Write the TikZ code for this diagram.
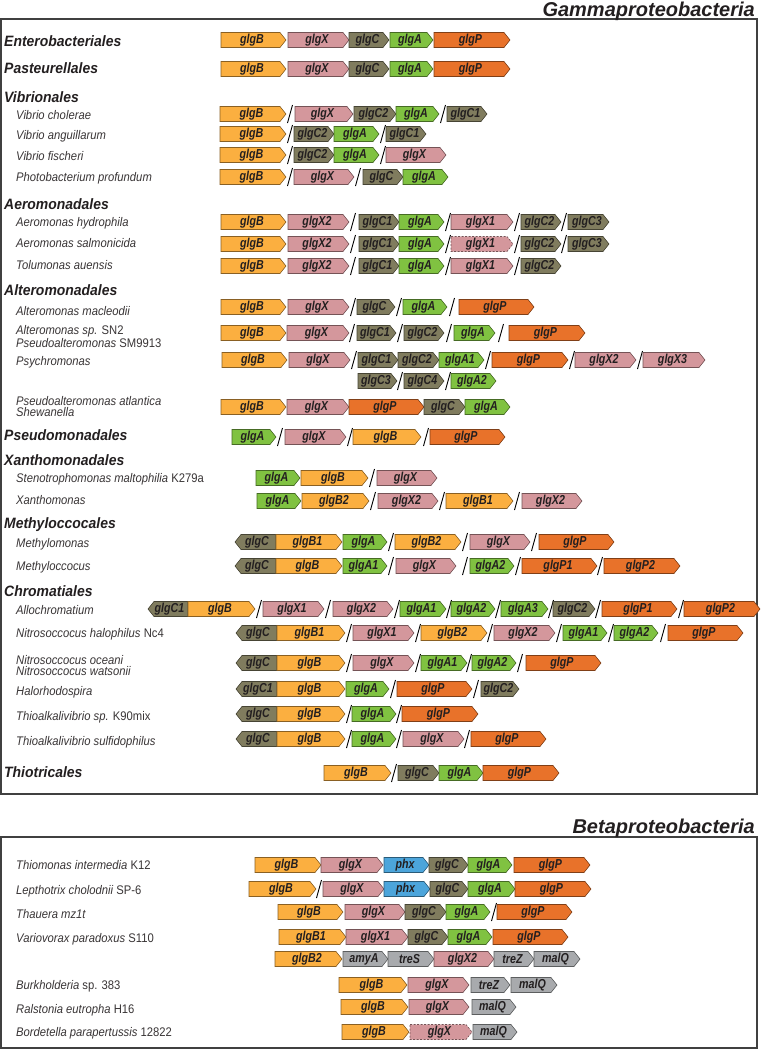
\documentclass[tikz,border=0pt]{standalone}
\usepackage{fontspec}
\setmainfont{Liberation Sans}
\newfontfamily\genefont[FakeStretch=0.82]{Liberation Sans}
\newfontfamily\labfont[FakeStretch=0.9]{Liberation Sans}
\newfontfamily\ordfont[FakeStretch=0.93]{Liberation Sans}
\definecolor{cB}{HTML}{FBAF40}
\definecolor{cX}{HTML}{D4979C}
\definecolor{cC}{HTML}{807C5E}
\definecolor{cA}{HTML}{80C241}
\definecolor{cP}{HTML}{E8722A}
\definecolor{cH}{HTML}{4CA5DB}
\definecolor{cG}{HTML}{A8AAAD}
\definecolor{txt}{HTML}{231F20}
\newcounter{gk}
\newcommand\gshape[6]{\stepcounter{gk}%
\filldraw[geneline,fill=#5,draw=#5!55!black,#1] (#2,#4-7.5) -- (#3-6,#4-7.5) -- (#3,#4) -- (#3-6,#4+7.5) -- (#2,#4+7.5) -- cycle;
\node[genetext] (g\thegk) at ({(#2+#3-3)/2},#4) {#6};}
\newcommand\gF{\gshape{}}
\newcommand\gD{\gshape{dash pattern=on 2pt off 1.5pt}}
\newcommand\gR[5]{\stepcounter{gk}%
\filldraw[geneline,fill=#4,draw=#4!55!black] (#2,#3-7.5) -- (#1+6,#3-7.5) -- (#1,#3) -- (#1+6,#3+7.5) -- (#2,#3+7.5) -- cycle;
\node[genetext] (g\thegk) at ({(#1+#2+3)/2},#3) {#5};}
\newcommand\brk[2]{\draw[brkline] (#1-2.5,#2+9) -- (#1+2.5,#2-9);}
\begin{document}
\begin{tikzpicture}[x=1pt,y=-1pt,
  geneline/.style={line width=0.6pt,line join=miter},
  genetext/.style={inner sep=0pt,text=txt,font=\genefont\fontsize{13}{14}\selectfont\bfseries\itshape},
  brkline/.style={line width=0.9pt,draw=black},
  frame/.style={line width=1.3pt,draw=black!75},
  hdr/.style={inner sep=0pt,text=txt,font=\fontsize{20}{22}\selectfont\bfseries\itshape},
  ordlab/.style={anchor=mid west,inner sep=0pt,text=txt,font=\ordfont\fontsize{15}{16}\selectfont\bfseries\itshape},
  splab/.style={anchor=mid west,inner sep=0pt,text=txt!90,font=\labfont\fontsize{12.5}{13}\selectfont\itshape},
  splab2/.style={anchor=west,inner sep=0pt,text=txt!90,align=left,font=\labfont\fontsize{12.5}{11}\selectfont\itshape}]
\useasboundingbox (0,0) rectangle (761,1050);
\fill[white] (0,0) rectangle (761,1050);
% frames and headers
\draw[frame] (1,19) rectangle (757,794);
\draw[frame] (1,837) rectangle (757,1048);
\node[hdr,anchor=base east] (hg) at (755,16) {Gammaproteobacteria};
\node[hdr,anchor=base east] (hb) at (755,833) {Betaproteobacteria};
% labels
\node[ordlab] (o1) at (4,44) {Enterobacteriales};
\node[ordlab] (o2) at (4,71) {Pasteurellales};
\node[ordlab] (o3) at (4,100) {Vibrionales};
\node[splab] (s1) at (16,117) {Vibrio cholerae};
\node[splab] (s2) at (16,137) {Vibrio anguillarum};
\node[splab] (s3) at (16,158) {Vibrio fischeri};
\node[splab] (s4) at (16,179) {Photobacterium profundum};
\node[ordlab] (o4) at (4,207) {Aeromonadales};
\node[splab] (s5) at (16,224) {Aeromonas hydrophila};
\node[splab] (s6) at (16,245) {Aeromonas salmonicida};
\node[splab] (s7) at (16,267) {Tolumonas auensis};
\node[ordlab] (o5) at (4,293) {Alteromonadales};
\node[splab] (s8) at (16,313) {Alteromonas macleodii};
\node[splab2] (s9) at (16,336.5) {Alteromonas sp. {\upshape SN2}\\Pseudoalteromonas {\upshape SM9913}};
\node[splab] (s10) at (16,363) {Psychromonas};
\node[splab2] (s11) at (16,406.5) {Pseudoalteromonas atlantica\\Shewanella};
\node[ordlab] (o6) at (4,438) {Pseudomonadales};
\node[ordlab] (o7) at (4,463) {Xanthomonadales};
\node[splab] (s12) at (16,480) {Stenotrophomonas maltophilia {\upshape K279a}};
\node[splab] (s13) at (16,502) {Xanthomonas};
\node[ordlab] (o8) at (4,526) {Methyloccocales};
\node[splab] (s14) at (16,545) {Methylomonas};
\node[splab] (s15) at (16,568) {Methyloccocus};
\node[ordlab] (o9) at (4,594) {Chromatiales};
\node[splab] (s16) at (16,612) {Allochromatium};
\node[splab] (s17) at (16,635) {Nitrosoccocus halophilus {\upshape Nc4}};
\node[splab2] (s18) at (16,665.5) {Nitrosoccocus oceani\\Nitrosoccocus watsonii};
\node[splab] (s19) at (16,693) {Halorhodospira};
\node[splab] (s20) at (16,718) {Thioalkalivibrio sp. {\upshape K90mix}};
\node[splab] (s21) at (16,743) {Thioalkalivibrio sulfidophilus};
\node[ordlab] (o10) at (4,775) {Thiotricales};
\node[splab] (s22) at (16,867) {Thiomonas intermedia {\upshape K12}};
\node[splab] (s23) at (16,892) {Lepthotrix cholodnii {\upshape SP-6}};
\node[splab] (s24) at (16,916) {Thauera mz1t};
\node[splab] (s25) at (16,940) {Variovorax paradoxus {\upshape S110}};
\node[splab] (s26) at (16,987) {Burkholderia {\upshape sp. 383}};
\node[splab] (s27) at (16,1011) {Ralstonia eutropha {\upshape H16}};
\node[splab] (s28) at (16,1034) {Bordetella parapertussis {\upshape 12822}};
% Enterobacteriales, Pasteurellales
\gF{221}{286}{40}{cB}{glgB}\gF{288}{349}{40}{cX}{glgX}\gF{349}{389}{40}{cC}{glgC}\gF{390}{433}{40}{cA}{glgA}\gF{434}{510}{40}{cP}{glgP}
\gF{221}{286}{69}{cB}{glgB}\gF{288}{349}{69}{cX}{glgX}\gF{349}{389}{69}{cC}{glgC}\gF{390}{433}{69}{cA}{glgA}\gF{434}{510}{69}{cP}{glgP}
% Vibrionales
\gF{220}{286}{114}{cB}{glgB}\brk{290}{114}\gF{295}{353}{114}{cX}{glgX}\gF{354}{396}{114}{cC}{glgC2}\gF{396}{439}{114}{cA}{glgA}\brk{443}{114}\gF{447}{487}{114}{cC}{glgC1}
\gF{220}{286}{134}{cB}{glgB}\brk{290}{134}\gF{294}{334}{134}{cC}{glgC2}\gF{334}{379}{134}{cA}{glgA}\brk{383}{134}\gF{386}{426}{134}{cC}{glgC1}
\gF{220}{286}{155}{cB}{glgB}\brk{290}{155}\gF{294}{334}{155}{cC}{glgC2}\gF{334}{379}{155}{cA}{glgA}\brk{383}{155}\gF{386}{446}{155}{cX}{glgX}
\gF{220}{286}{177}{cB}{glgB}\brk{290}{177}\gF{294}{354}{177}{cX}{glgX}\brk{358}{177}\gF{363}{403}{177}{cC}{glgC}\gF{403}{448}{177}{cA}{glgA}
% Aeromonadales
\gF{221}{286}{222}{cB}{glgB}\gF{288}{349}{222}{cX}{glgX2}\brk{353}{222}\gF{359}{399}{222}{cC}{glgC1}\gF{399}{444}{222}{cA}{glgA}\brk{448}{222}\gF{451}{513}{222}{cX}{glgX1}\brk{517}{222}\gF{521}{561}{222}{cC}{glgC2}\brk{564}{222}\gF{568}{609}{222}{cC}{glgC3}
\gF{221}{286}{244}{cB}{glgB}\gF{288}{349}{244}{cX}{glgX2}\brk{353}{244}\gF{359}{399}{244}{cC}{glgC1}\gF{399}{444}{244}{cA}{glgA}\brk{448}{244}\gD{451}{513}{244}{cX}{glgX1}\brk{517}{244}\gF{521}{561}{244}{cC}{glgC2}\brk{564}{244}\gF{568}{609}{244}{cC}{glgC3}
\gF{221}{286}{266}{cB}{glgB}\gF{288}{349}{266}{cX}{glgX2}\brk{353}{266}\gF{359}{399}{266}{cC}{glgC1}\gF{399}{444}{266}{cA}{glgA}\brk{448}{266}\gF{451}{513}{266}{cX}{glgX1}\brk{517}{266}\gF{521}{561}{266}{cC}{glgC2}
% Alteromonadales
\gF{221}{286}{307}{cB}{glgB}\gF{288}{349}{307}{cX}{glgX}\brk{353}{307}\gF{357}{395}{307}{cC}{glgC}\brk{399}{307}\gF{403}{447}{307}{cA}{glgA}\brk{452}{307}\gF{459}{534}{307}{cP}{glgP}
\gF{221}{286}{333}{cB}{glgB}\gF{287}{349}{333}{cX}{glgX}\brk{352}{333}\gF{357}{396}{333}{cC}{glgC1}\brk{400}{333}\gF{404}{444}{333}{cC}{glgC2}\brk{449}{333}\gF{454}{495}{333}{cA}{glgA}\brk{501}{333}\gF{509}{585}{333}{cP}{glgP}
\gF{222}{287}{360}{cB}{glgB}\gF{289}{350}{360}{cX}{glgX}\brk{354}{360}\gF{358}{398}{360}{cC}{glgC1}\gF{398}{439}{360}{cC}{glgC2}\gF{439}{484}{360}{cA}{glgA1}\brk{488}{360}\gF{492}{568}{360}{cP}{glgP}\brk{572}{360}\gF{575}{636}{360}{cX}{glgX2}\brk{640}{360}\gF{643}{705}{360}{cX}{glgX3}
\gF{358}{397}{381}{cC}{glgC3}\brk{400}{381}\gF{404}{444}{381}{cC}{glgC4}\brk{448}{381}\gF{451}{496}{381}{cA}{glgA2}
\gF{221}{286}{407}{cB}{glgB}\gF{287}{349}{407}{cX}{glgX}\gF{349}{424}{407}{cP}{glgP}\gF{424}{465}{407}{cC}{glgC}\gF{465}{510}{407}{cA}{glgA}
% Pseudomonadales
\gF{232}{276}{437}{cA}{glgA}\brk{280}{437}\gF{285}{346}{437}{cX}{glgX}\brk{350}{437}\gF{353}{421}{437}{cB}{glgB}\brk{426}{437}\gF{430}{505}{437}{cP}{glgP}
% Xanthomonadales
\gF{256}{300}{478}{cA}{glgA}\gF{301}{368}{478}{cB}{glgB}\brk{372}{478}\gF{377}{437}{478}{cX}{glgX}
\gF{257}{301}{501}{cA}{glgA}\gF{302}{369}{501}{cB}{glgB2}\brk{373}{501}\gF{378}{438}{501}{cX}{glgX2}\brk{442}{501}\gF{446}{513}{501}{cB}{glgB1}\brk{517}{501}\gF{522}{582}{501}{cX}{glgX2}
% Methyloccocales
\gR{235}{276}{542}{cC}{glgC}\gF{276}{342}{542}{cB}{glgB1}\gF{343}{387}{542}{cA}{glgA}\brk{391}{542}\gF{395}{461}{542}{cB}{glgB2}\brk{465}{542}\gF{470}{530}{542}{cX}{glgX}\brk{534}{542}\gF{539}{614}{542}{cP}{glgP}
\gR{235}{276}{566}{cC}{glgC}\gF{276}{342}{566}{cB}{glgB}\gF{343}{387}{566}{cA}{glgA1}\brk{391}{566}\gF{396}{456}{566}{cX}{glgX}\brk{465}{566}\gF{470}{514}{566}{cA}{glgA2}\brk{518}{566}\gF{522}{597}{566}{cP}{glgP1}\brk{600}{566}\gF{604}{680}{566}{cP}{glgP2}
% Chromatiales
\gR{148}{188}{609}{cC}{glgC1}\gF{188}{255}{609}{cB}{glgB}\brk{259}{609}\gF{263}{324}{609}{cX}{glgX1}\brk{328}{609}\gF{333}{393}{609}{cX}{glgX2}\brk{397}{609}\gF{400}{446}{609}{cA}{glgA1}\brk{449}{609}\gF{451}{495}{609}{cA}{glgA2}\brk{498}{609}\gF{501}{548}{609}{cA}{glgA3}\brk{551}{609}\gF{553}{595}{609}{cC}{glgC2}\brk{598}{609}\gF{602}{677}{609}{cP}{glgP1}\brk{681}{609}\gF{684}{760}{609}{cP}{glgP2}
\gR{236}{277}{633}{cC}{glgC}\gF{277}{345}{633}{cB}{glgB1}\brk{349}{633}\gF{353}{414}{633}{cX}{glgX1}\brk{418}{633}\gF{421}{487}{633}{cB}{glgB2}\brk{490}{633}\gF{494}{555}{633}{cX}{glgX2}\brk{559}{633}\gF{563}{607}{633}{cA}{glgA1}\brk{611}{633}\gF{614}{658}{633}{cA}{glgA2}\brk{663}{633}\gF{668}{743}{633}{cP}{glgP}
\gR{236}{277}{663}{cC}{glgC}\gF{277}{345}{663}{cB}{glgB}\brk{349}{663}\gF{353}{414}{663}{cX}{glgX}\brk{418}{663}\gF{421}{467}{663}{cA}{glgA1}\brk{469}{663}\gF{472}{516}{663}{cA}{glgA2}\brk{520}{663}\gF{526}{601}{663}{cP}{glgP}
\gR{236}{277}{689}{cC}{glgC1}\gF{277}{345}{689}{cB}{glgB}\gF{346}{389}{689}{cA}{glgA}\brk{393}{689}\gF{397}{472}{689}{cP}{glgP}\brk{476}{689}\gF{481}{519}{689}{cC}{glgC2}
\gR{236}{277}{714}{cC}{glgC}\gF{277}{345}{714}{cB}{glgB}\brk{349}{714}\gF{352}{396}{714}{cA}{glgA}\brk{399}{714}\gF{402}{478}{714}{cP}{glgP}
\gR{236}{277}{739}{cC}{glgC}\gF{277}{345}{739}{cB}{glgB}\brk{349}{739}\gF{352}{396}{739}{cA}{glgA}\brk{399}{739}\gF{403}{464}{739}{cX}{glgX}\brk{467}{739}\gF{471}{546}{739}{cP}{glgP}
% Thiotricales
\gF{324}{391}{773}{cB}{glgB}\brk{394}{773}\gF{398}{439}{773}{cC}{glgC}\gF{439}{483}{773}{cA}{glgA}\gF{483}{559}{773}{cP}{glgP}
% Betaproteobacteria
\gF{255}{321}{865}{cB}{glgB}\gF{321}{383}{865}{cX}{glgX}\gF{384}{429}{865}{cH}{phx}\gF{429}{468}{865}{cC}{glgC}\gF{468}{512}{865}{cA}{glgA}\gF{514}{590}{865}{cP}{glgP}
\gF{249}{316}{889}{cB}{glgB}\brk{319}{889}\gF{323}{384}{889}{cX}{glgX}\gF{384}{430}{889}{cH}{phx}\gF{430}{468}{889}{cC}{glgC}\gF{468}{515}{889}{cA}{glgA}\gF{515}{591}{889}{cP}{glgP}
\gF{278}{343}{912}{cB}{glgB}\gF{345}{405}{912}{cX}{glgX}\gF{405}{446}{912}{cC}{glgC}\gF{446}{490}{912}{cA}{glgA}\brk{494}{912}\gF{497}{572}{912}{cP}{glgP}
\gF{279}{346}{937}{cB}{glgB1}\gF{346}{408}{937}{cX}{glgX1}\gF{408}{448}{937}{cC}{glgC}\gF{448}{492}{937}{cA}{glgA}\gF{493}{568}{937}{cP}{glgP}
\gF{275}{342}{959}{cB}{glgB2}\gF{343}{388}{959}{cG}{amyA}\gF{388}{434}{959}{cG}{treS}\gF{434}{494}{959}{cX}{glgX2}\gF{494}{534}{959}{cG}{treZ}\gF{534}{580}{959}{cG}{malQ}
\gF{339}{407}{985}{cB}{glgB}\gF{408}{469}{985}{cX}{glgX}\gF{471}{510}{985}{cG}{treZ}\gF{511}{557}{985}{cG}{malQ}
\gF{341}{408}{1007}{cB}{glgB}\gF{409}{469}{1007}{cX}{glgX}\gF{472}{516}{1007}{cG}{malQ}
\gF{342}{409}{1032}{cB}{glgB}\gD{410}{472}{1032}{cX}{glgX}\gF{473}{517}{1032}{cG}{malQ}
\end{tikzpicture}
\end{document}
